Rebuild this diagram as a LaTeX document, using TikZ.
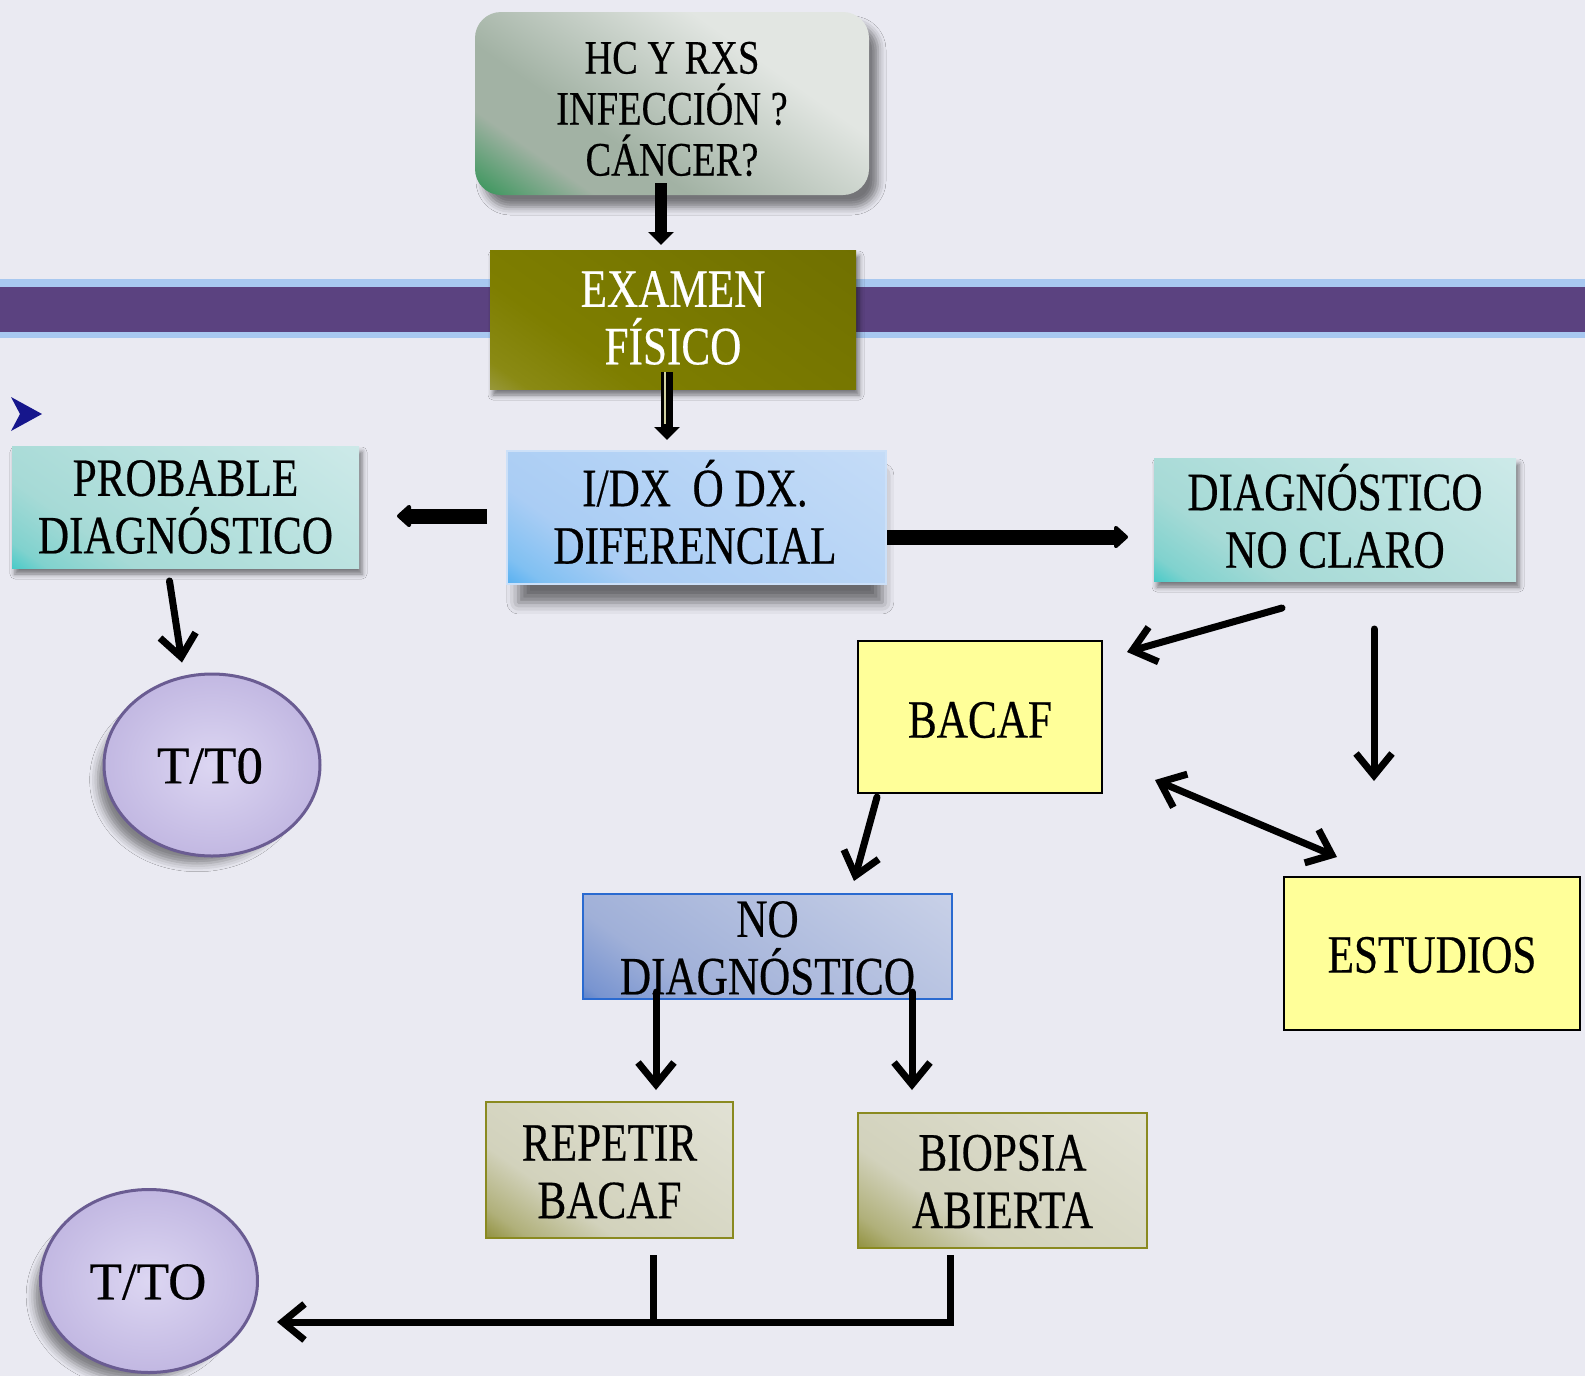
\documentclass[tikz,border=0pt]{standalone}
\usepackage{fontspec}
\setmainfont{Liberation Serif}[FakeStretch=0.8,FakeBold=0.4]
\newfontfamily\wideserif{Liberation Serif}[FakeBold=0.4]
\usetikzlibrary{arrows.meta,calc,shadows.blur,shapes.geometric}

\definecolor{bgc}{HTML}{EAEAF2}
\definecolor{bandblue}{HTML}{A8C8F0}
\definecolor{bandpurple}{HTML}{5B4280}
\definecolor{hcG}{HTML}{3A965C}
\definecolor{hcM}{HTML}{A2B2A4}
\definecolor{hcT}{HTML}{E2E6E2}
\definecolor{exA}{HTML}{A8A86C}
\definecolor{exB}{HTML}{8A8A14}
\definecolor{exC}{HTML}{7E7E00}
\definecolor{exD}{HTML}{6C6C00}
\definecolor{idA}{HTML}{2A9FF0}
\definecolor{idB}{HTML}{80C0F2}
\definecolor{idC}{HTML}{AACDF4}
\definecolor{idD}{HTML}{CCE0F8}
\definecolor{tlA}{HTML}{10C2C2}
\definecolor{tlB}{HTML}{80D2CE}
\definecolor{tlC}{HTML}{A6DAD6}
\definecolor{tlD}{HTML}{D8EEEE}
\definecolor{ndA}{HTML}{1E5CC0}
\definecolor{ndB}{HTML}{7894D0}
\definecolor{ndC}{HTML}{A0B0D8}
\definecolor{ndD}{HTML}{D4DAEC}
\definecolor{ndE}{HTML}{2A6AD0}
\definecolor{olA}{HTML}{7A7A10}
\definecolor{olB}{HTML}{B0B07A}
\definecolor{olC}{HTML}{D2D2BC}
\definecolor{olD}{HTML}{E6E6DC}
\definecolor{olE}{HTML}{8A8A20}
\definecolor{yel}{HTML}{FFFF99}
\definecolor{elIn}{HTML}{DCD6F2}
\definecolor{elOut}{HTML}{C2B8E2}
\definecolor{elRim}{HTML}{6A5C92}
\definecolor{bullet}{HTML}{16168C}

\pgfdeclareverticalshading{hcsh}{100bp}{color(0bp)=(hcG); color(16bp)=(hcG); color(28bp)=(hcM); color(38bp)=(hcM); color(66bp)=(hcT); color(100bp)=(hcT)}
\pgfdeclareverticalshading{exsh}{100bp}{color(0bp)=(exA); color(9bp)=(exA); color(20bp)=(exB); color(34bp)=(exC); color(100bp)=(exD)}
\pgfdeclareverticalshading{idsh}{100bp}{color(0bp)=(idA); color(10bp)=(idA); color(20bp)=(idB); color(32bp)=(idC); color(100bp)=(idD)}
\pgfdeclareverticalshading{tlsh}{100bp}{color(0bp)=(tlA); color(10bp)=(tlA); color(20bp)=(tlB); color(32bp)=(tlC); color(100bp)=(tlD)}
\pgfdeclareverticalshading{ndsh}{100bp}{color(0bp)=(ndA); color(9bp)=(ndA); color(18bp)=(ndB); color(32bp)=(ndC); color(100bp)=(ndD)}
\pgfdeclareverticalshading{olsh}{100bp}{color(0bp)=(olA); color(10bp)=(olA); color(22bp)=(olB); color(36bp)=(olC); color(100bp)=(olD)}

\tikzset{
  box/.style={rectangle, inner sep=0pt, outer sep=0pt},
  txt/.style={align=center, inner sep=0pt, font=\fontsize{54}{57.5}\selectfont},
  sh/.style={blur shadow={shadow xshift=3pt, shadow yshift=-6pt, shadow blur radius=5pt, shadow opacity=50}},
  ybox/.style={box, fill=yel, draw=black, line width=2pt},
  obox/.style={box, shading=olsh, shading angle=-35, draw=olE, line width=2.2pt},
  tbox/.style={box, shading=tlsh, shading angle=-35, sh},
  oval/.style={ellipse, inner sep=0pt, inner color=elIn, outer color=elOut, draw=elRim, line width=3pt,
     blur shadow={shadow xshift=-16pt, shadow yshift=-16pt, shadow scale=0.92, shadow blur radius=9pt, shadow opacity=45}},
  fat/.style={line width=15pt, -{Triangle[length=15pt,width=26pt,round]}},
  stem/.style={line width=12pt, -{Triangle[length=13pt,width=25pt]}},
  barb/.tip={Straight Barb[length=22pt,width=36pt,line width=7pt]},
  thin/.style={line width=7pt, line cap=round, -barb},
  bar/.style={line width=7pt}
}

\begin{document}
\begin{tikzpicture}[x=1pt,y=-1pt]
\useasboundingbox (0,0) rectangle (1585,1376);
\fill[bgc] (0,0) rectangle (1585,1376);

% band
\fill[bandblue] (0,279) rectangle (1585,338);
\fill[bandpurple] (0,287) rectangle (1585,332);

% bullet
\fill[bullet] (11,397) -- (42,414) -- (11,431) -- (20,414) -- cycle;

% boxes
\node[box, rounded corners=26pt, shading=hcsh, shading angle=-35, minimum width=394pt, minimum height=183pt,
  blur shadow={shadow xshift=9pt, shadow yshift=-12pt, shadow blur radius=8pt, shadow opacity=50}] (hc) at (672,103.5) {};
\node[box, shading=exsh, shading angle=-35, minimum width=366pt, minimum height=139pt, sh] (exam) at (673,319.5) {};
\node[box, shading=idsh, shading angle=-35, draw=idD, line width=2pt, minimum width=379pt, minimum height=133pt,
  blur shadow={shadow xshift=4pt, shadow yshift=-22pt, shadow scale=0.96, shadow blur radius=12pt, shadow opacity=55}] (idx) at (696.5,517.5) {};
\node[tbox, minimum width=347pt, minimum height=122pt] (prob) at (185.5,507) {};
\node[tbox, minimum width=362pt, minimum height=123pt] (nocl) at (1335,519.5) {};
\node[ybox, minimum width=244pt, minimum height=152pt] (bacaf) at (980,717) {};
\node[ybox, minimum width=296pt, minimum height=153pt] (est) at (1432,953.5) {};
\node[box, shading=ndsh, shading angle=-35, draw=ndE, line width=2.2pt, minimum width=369pt, minimum height=105pt] (nod) at (767.5,946.5) {};
\node[obox, minimum width=247pt, minimum height=136pt] (rep) at (609.5,1170) {};
\node[obox, minimum width=289pt, minimum height=135pt] (bio) at (1002.5,1180.5) {};
\node[oval, minimum width=216pt, minimum height=182pt] (tt1) at (212,765) {};
\node[oval, minimum width=217pt, minimum height=183pt] (tt2) at (149,1281) {};

% texts
\node[txt, font=\fontsize{48}{51}\selectfont] (hct) at (hc.center) [yshift=-5.5pt] {HC Y RXS\\INFECCIÓN ?\\CÁNCER?};
\node[txt, text=white] (examt) at ($(exam.center)+(0,-1.5)$) {EXAMEN\\FÍSICO};
\node[txt] (idxt) at ($(idx.center)+(-1.5,-5.5)$) {I/DX\ \ Ó DX.\\DIFERENCIAL};
\node[txt] (probt) at (prob.center) {PROBABLE\\DIAGNÓSTICO};
\node[txt] (noclt) at ($(nocl.center)+(0,-3.5)$) {DIAGNÓSTICO\\NO CLARO};
\node[txt] (bacaft) at ($(bacaf.center)+(0,3)$) {BACAF};
\node[txt] (estt) at ($(est.center)+(0,1.5)$) {ESTUDIOS};
\node[txt] (nodt) at ($(nod.center)+(0,1.5)$) {NO\\DIAGNÓSTICO};
\node[txt] (rept) at ($(rep.center)+(0,2)$) {REPETIR\\BACAF};
\node[txt] (biot) at ($(bio.center)+(0,1)$) {BIOPSIA\\ABIERTA};
\node[txt, font=\wideserif\fontsize{53}{57}\selectfont] (tt1t) at ($(tt1.center)+(-2,1)$) {T/T0};
\node[txt, font=\wideserif\fontsize{53}{57}\selectfont] (tt2t) at ($(tt2.center)+(-1,1)$) {T/TO};

% connectors
\draw[stem] ($(hc.south)+(-11,-12)$) -- ($(exam.north)+(-12,-5)$);
\draw[stem] ($(exam.south)+(-6,-17)$) -- ($(idx.north)+(-29.5,-11)$);
\draw[white!60!exB, line width=1.5pt] ($(exam.south)+(-8,-17)$) -- ($(idx.north)+(-31.5,-27)$);
\draw[fat] ($(idx.west)+(-20,-1.5)$) -- ($(prob.east)+(38,9)$);
\draw[fat] ($(idx.east)+(1,19.5)$) -- ($(nocl.west)+(-26,17.5)$);
\draw[thin] ($(prob.south)+(-16,13)$) -- ($(tt1.north)+(-30,-10)$);
\draw[thin] ($(nocl.south)+(-53,27)$) -- ($(bacaf.north east)+(25,11)$);
\draw[thin] ($(nocl.south)+(39,48)$) -- ($(est.north)+(-58,-96)$);
\draw[thin, barb-barb] ($(bacaf.south east)+(53,-13)$) -- ($(est.north west)+(53,-20)$);
\draw[thin] ($(bacaf.south west)+(19,4)$) -- ($(nod.north)+(86.5,-13)$);
\draw[thin] ($(nod.south)+(-111.5,-7)$) -- ($(rep.north)+(46.5,-12)$);
\draw[thin] ($(nod.south)+(144.5,-7)$) -- ($(bio.north)+(-90.5,-23)$);
\coordinate (j1) at ($(rep.south)+(43.5,84)$);
\coordinate (j2) at ($(bio.south)+(-52.5,74)$);
\draw[bar] ($(rep.south)+(43.5,17)$) -- (j1);
\draw[bar] ($(bio.south)+(-52.5,7)$) -- (j2);
\draw[thin, line cap=butt] ($(j2)+(3.5,0)$) -- ($(tt2.east)+(18,41)$);
\end{tikzpicture}
\end{document}
